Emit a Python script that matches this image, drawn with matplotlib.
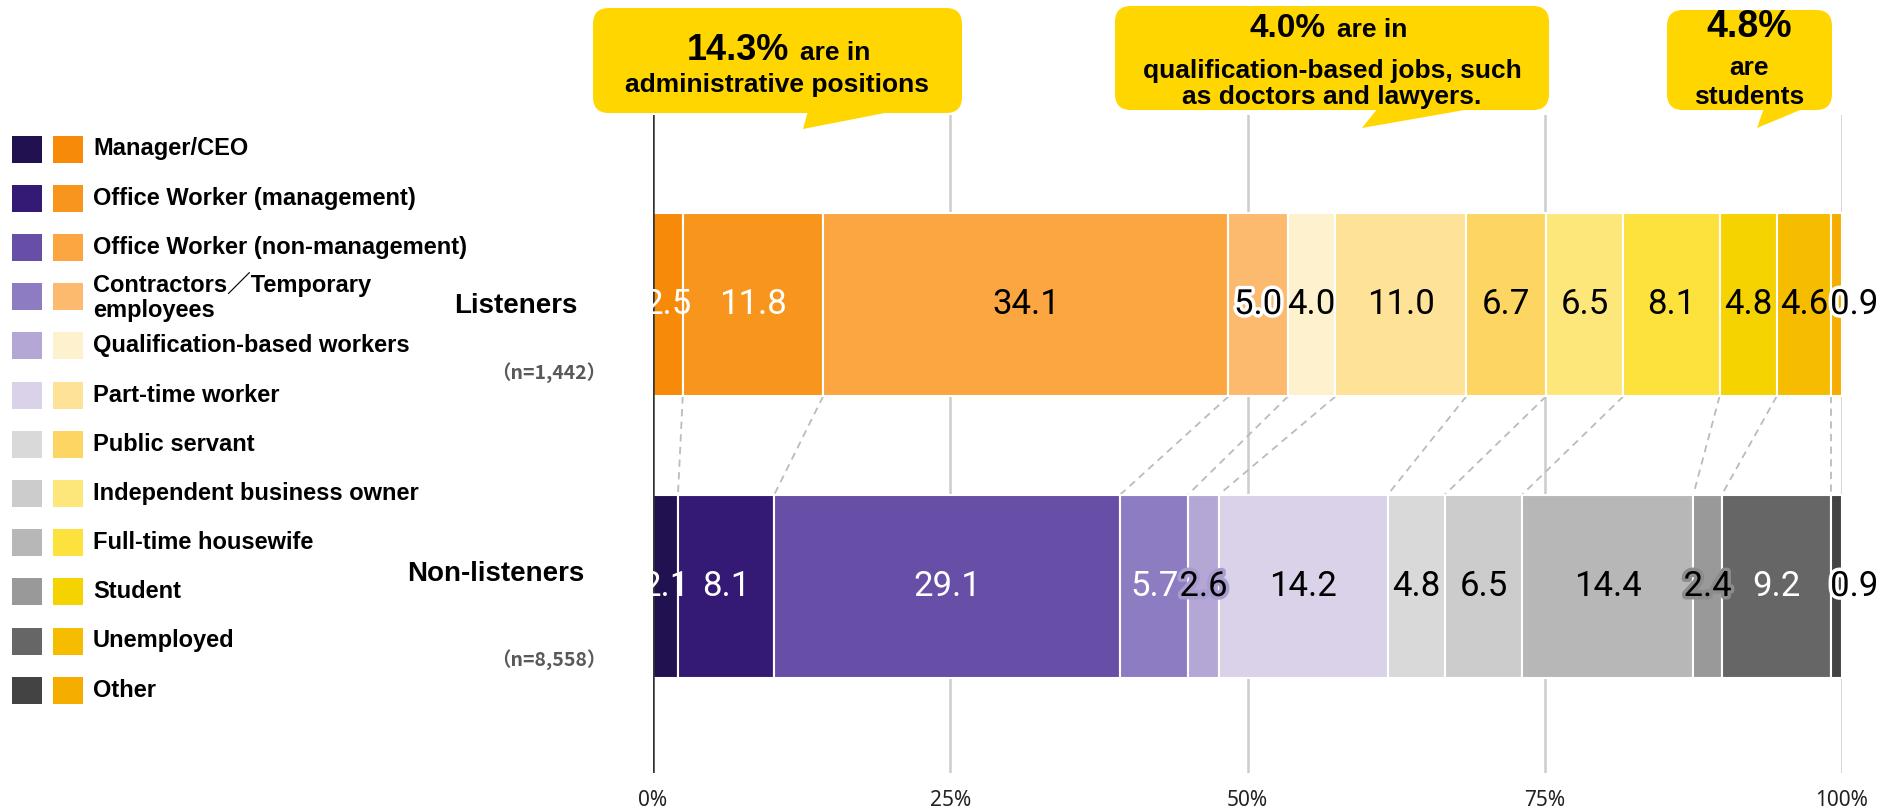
import matplotlib
matplotlib.use("Agg")
import matplotlib.pyplot as plt
import matplotlib.patheffects as pe
from matplotlib.patches import FancyBboxPatch, Polygon, Rectangle
import numpy as np

# occupation shares (%) for each audience group
categories = ["Manager/CEO", "Office Worker (management)", "Office Worker (non-management)",
              "Contractors／Temporary\nemployees", "Qualification-based workers", "Part-time worker",
              "Public servant", "Independent business owner", "Full-time housewife", "Student",
              "Unemployed", "Other"]
groups = ["Listeners", "Non-listeners"]
sample_sizes = ["（n=1,442）", "（n=8,558）"]
listeners = [2.5, 11.8, 34.1, 5.0, 4.0, 11.0, 6.7, 6.5, 8.1, 4.8, 4.6, 0.9]
non_listeners = [2.1, 8.1, 29.1, 5.7, 2.6, 14.2, 4.8, 6.5, 14.4, 2.4, 9.2, 0.9]
ticks = [0, 25, 50, 75, 100]

orange = ["#F88A0A", "#F8951C", "#FBA640", "#FCBA6E", "#FEF1CE", "#FEE298",
          "#FDD563", "#FEE77A", "#FDE13D", "#F4D300", "#F6BC00", "#F5AD00"]
purple = ["#211150", "#351A75", "#674EA7", "#8E7CC3", "#B4A7D6", "#D9D2E9",
          "#D9D9D9", "#CCCCCC", "#B7B7B7", "#999999", "#666666", "#434343"]

# label colour and optional halo per segment
lab_l = [("white", None), ("white", None)] + [("black", None)] * 10
lab_l[3] = ("black", "white")
lab_l[11] = ("black", "white")
lab_n = [("white", None)] * 4 + [("black", None)] * 8
lab_n[4] = ("black", "#A99CCF")
lab_n[9] = ("black", "#8C8C8C")
lab_n[10] = ("white", None)
lab_n[11] = ("black", "white")

W, H = 1880, 808
fig = plt.figure(figsize=(W / 100, H / 100), dpi=100)

# main bar axes, placed in pixel terms
x0, x1 = 653, 1842
y_top, y_bot = 115, 773
row_gap, row0 = 282, 304.5
ax = fig.add_axes([x0 / W, 1 - y_bot / H, (x1 - x0) / W, (y_bot - y_top) / H])
ax.set_xlim(0, 100)
ax.set_ylim((y_bot - row0) / row_gap, (y_top - row0) / row_gap)
bh = 0.652

for t in ticks[1:]:
    ax.axvline(t, color="#cccccc", lw=1.8, zorder=0)
ax.axvline(0, color="#333333", lw=1.8, zorder=4)

rows = [(0, listeners, orange, lab_l), (1, non_listeners, purple, lab_n)]
for r, vals, cols, labs in rows:
    vals = np.array(vals)
    lefts = np.concatenate([[0], np.cumsum(vals)[:-1]])
    ax.barh(r, vals, left=lefts, height=bh, color=cols, edgecolor="white", linewidth=1.5, zorder=2)
    for k, (v, lft, (tc, halo)) in enumerate(zip(vals, lefts, labs)):
        kw = {}
        if halo:
            kw["path_effects"] = [pe.withStroke(linewidth=5, foreground=halo)]
        # the thin last segment gets its label starting at its left edge
        if k == len(vals) - 1:
            xt, ha = lft - 0.1, "left"
        else:
            xt, ha = lft + v / 2, "center"
        ax.text(xt, r, f"{v:.1f}", ha=ha, va="center", fontsize=25,
                family="Roboto", color=tc, zorder=5, **kw)

# dashed connectors between matching segment boundaries
cl = np.cumsum(listeners)[:-1]
cn = np.cumsum(non_listeners)[:-1]
for a, b in zip(cl, cn):
    ax.plot([a, b], [bh / 2, 1 - bh / 2], ls=(0, (4, 3)), color="#bbbbbb", lw=1.3, zorder=1)

ax.set_xticks(ticks, [f"{t}%" for t in ticks])
ax.set_yticks([])
ax.tick_params(axis="x", length=0, pad=12, labelsize=15, labelcolor="#222222")
for lbl in ax.get_xticklabels():
    lbl.set_family("Noto Sans")
for s in ax.spines.values():
    s.set_visible(False)

# overlay in pixel coordinates for legend, group labels and callouts
ov = fig.add_axes([0, 0, 1, 1])
ov.set_xlim(0, W)
ov.set_ylim(H, 0)
ov.axis("off")

bold = ["Liberation Sans", "Noto Sans CJK JP"]
for i, cat in enumerate(categories):
    y = 149 + 49.2 * i
    ov.add_patch(Rectangle((12, y - 13.5), 30, 27, fc=purple[i], ec="none"))
    ov.add_patch(Rectangle((53, y - 13.5), 30, 27, fc=orange[i], ec="none"))
    ov.text(93, y, cat, va="center", ha="left", fontsize=17, weight="bold",
            family=bold, linespacing=1.12)

for (gx, gy), (nx, ny), g, n in zip([(516, 306), (496, 574)], [(549, 373), (549, 660)],
                                    groups, sample_sizes):
    ov.text(gx, gy, g, ha="center", va="center", fontsize=20, weight="bold", family=bold)
    ov.text(nx, ny, n, ha="center", va="center", fontsize=14, weight="bold",
            color="#595959", family="Noto Sans CJK JP")

yellow = "#FFD600"


def callout(box, base, tip):
    bx0, by0, bx1, by1 = box
    ov.add_patch(FancyBboxPatch((bx0, by0), bx1 - bx0, by1 - by0,
                                boxstyle="round,pad=0,rounding_size=16", fc=yellow, ec="none"))
    ov.add_patch(Polygon([(base[0], by1 - 2), (base[1], by1 - 2), tip], fc=yellow, ec="none"))


callout((593, 8, 962, 113), (808, 895), (803, 129))
callout((1115, 6, 1549, 110), (1378, 1476), (1362, 128))
callout((1667, 10, 1832, 110), (1764, 1805), (1757, 128))

mid = dict(fontsize=19, weight="bold", family=bold)
ov.text(789, 60, "14.3%", ha="right", va="baseline", fontsize=26, weight="bold", family=bold)
ov.text(800, 60, "are in", ha="left", va="baseline", **mid)
ov.text(777, 85, "administrative positions", ha="center", va="center", **mid)

ov.text(1326, 37, "4.0%", ha="right", va="baseline", fontsize=24, weight="bold", family=bold)
ov.text(1337, 37, "are in", ha="left", va="baseline", **mid)
ov.text(1332, 71, "qualification-based jobs, such", ha="center", va="center", **mid)
ov.text(1332, 97, "as doctors and lawyers.", ha="center", va="center", **mid)

ov.text(1749, 27, "4.8%", ha="center", va="center", fontsize=27, weight="bold", family=bold)
ov.text(1749, 68, "are", ha="center", va="center", **mid)
ov.text(1749, 97, "students", ha="center", va="center", **mid)

fig.savefig("out.png", dpi=100)
